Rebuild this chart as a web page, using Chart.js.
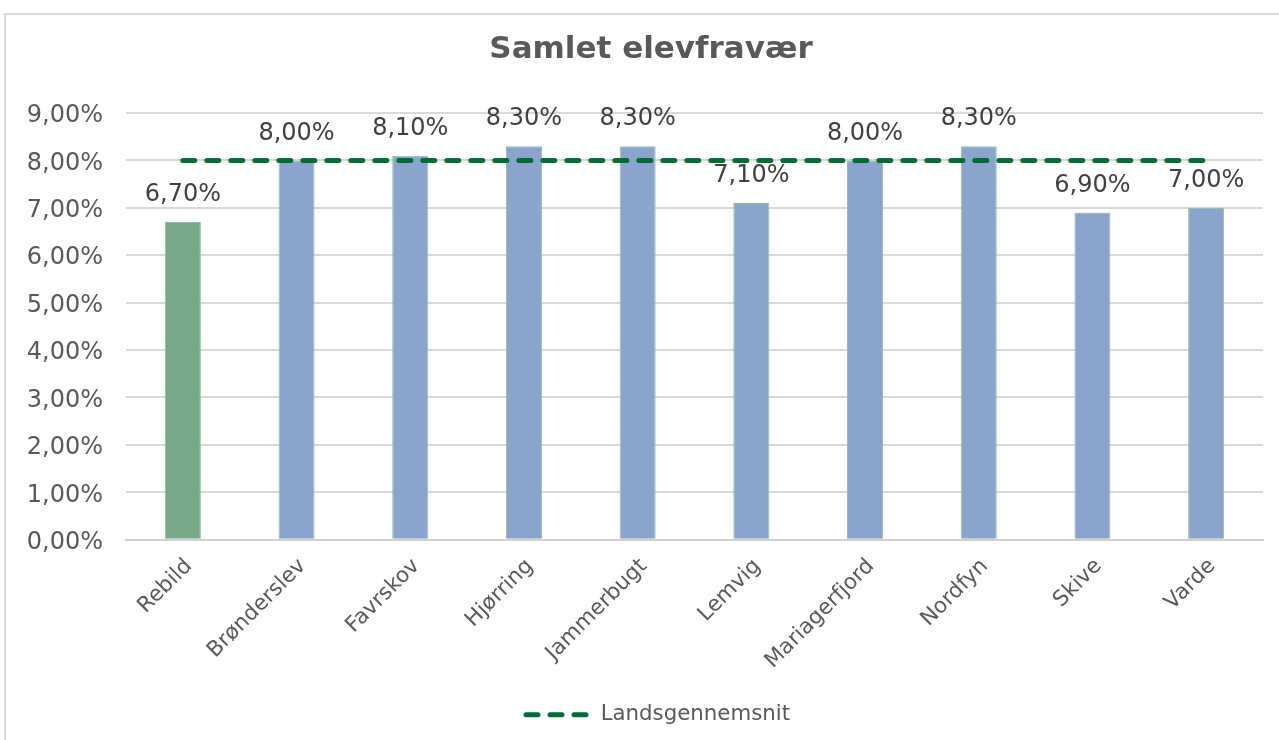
<!DOCTYPE html>
<html>
<head>
<meta charset="utf-8">
<script src="https://cdn.jsdelivr.net/npm/chart.js@4/dist/chart.umd.min.js"></script>
<style>
  html, body { margin: 0; padding: 0; background: #ffffff; overflow: hidden; }
  #frame { position: absolute; left: 4px; top: 13px; width: 1400px; height: 900px;
           border-left: 2px solid #d9d9d9; border-top: 2px solid #d9d9d9; }
  #wrap { position: absolute; left: 0; top: 0; width: 1279px; height: 740px; }
</style>
</head>
<body>
<div id="frame"></div>
<div id="wrap"><canvas id="c" width="1279" height="740"></canvas></div>
<script>
// ---- data ----
const categories = ['Rebild', 'Brønderslev', 'Favrskov', 'Hjørring', 'Jammerbugt', 'Lemvig', 'Mariagerfjord', 'Nordfyn', 'Skive', 'Varde'];
const fravaer = [6.7, 8.0, 8.1, 8.3, 8.3, 7.1, 8.0, 8.3, 6.9, 7.0];
const landsgennemsnit = [8.0, 8.0, 8.0, 8.0, 8.0, 8.0, 8.0, 8.0, 8.0, 8.0];
const highlighted = 'Rebild';
const titleText = 'Samlet elevfravær';
const lineLabel = 'Landsgennemsnit';
const yMin = 0, yMax = 9, yStep = 1;

const FONT = "'DejaVu Sans', Verdana, sans-serif";
const LINE_COLOR = '#006B35';
const LINE_DASH = [12, 12];
const fmt = v => Number(v).toFixed(2).replace('.', ',') + '%';

const dataLabels = {
  id: 'dataLabels',
  afterDatasetsDraw(chart) {
    const ctx = chart.ctx;
    chart.data.datasets.forEach((ds, i) => {
      if (ds.type !== 'bar') return;
      const meta = chart.getDatasetMeta(i);
      ctx.save();
      ctx.font = '24px ' + FONT;
      ctx.fillStyle = '#404040';
      ctx.textAlign = 'center';
      ctx.textBaseline = 'bottom';
      meta.data.forEach((el, j) => {
        ctx.fillText(fmt(ds.data[j]), el.x, el.y - 15);
      });
      ctx.restore();
    });
  }
};

const legendShift = {
  id: 'legendShift',
  afterLayout(chart) {
    if (chart.legend) { chart.legend.left += 7; chart.legend.right += 7; }
  }
};

new Chart(document.getElementById('c'), {
  data: {
    labels: categories,
    datasets: [
      {
        type: 'line',
        label: lineLabel,
        data: landsgennemsnit,
        borderColor: LINE_COLOR,
        backgroundColor: LINE_COLOR,
        borderWidth: 5,
        borderDash: LINE_DASH,
        borderCapStyle: 'round',
        pointRadius: 0,
        pointHoverRadius: 0,
        pointStyle: 'line',
        order: 0
      },
      {
        type: 'bar',
        label: titleText,
        data: fravaer,
        backgroundColor: ctx => categories[ctx.dataIndex] === highlighted ? '#77A888' : '#8AA4CC',
        borderColor: '#8CC29B',
        borderWidth: 1,
        barPercentage: 0.317,
        categoryPercentage: 1,
        order: 1
      }
    ]
  },
  options: {
    responsive: false,
    animation: false,
    layout: { padding: { left: 23, right: 0, top: 0, bottom: 4.5 } },
    plugins: {
      title: {
        display: true,
        text: titleText,
        color: '#595959',
        font: { family: FONT, size: 31, weight: 'bold', lineHeight: 1.2 },
        padding: { top: 31.4, bottom: 44.4 }
      },
      legend: {
        position: 'bottom',
        labels: {
          filter: item => item.text === lineLabel,
          generateLabels(chart) {
            const items = Chart.defaults.plugins.legend.labels.generateLabels(chart);
            items.forEach(it => {
              const ds = chart.data.datasets[it.datasetIndex];
              if (ds.type === 'line') {
                it.lineDash = ds.borderDash;
                it.lineCap = 'round';
                it.lineWidth = 5;
                it.strokeStyle = ds.borderColor;
                it.fillStyle = ds.borderColor;
              }
            });
            return items;
          },
          usePointStyle: true,
          pointStyle: 'line',
          pointStyleWidth: 64,
          color: '#595959',
          font: { family: FONT, size: 21.3 },
          padding: 10
        }
      },
      tooltip: { enabled: false }
    },
    scales: {
      x: {
        grid: { display: false, drawTicks: false },
        border: { display: true, color: '#D0D0D0', width: 2 },
        ticks: {
          autoSkip: false,
          minRotation: 45,
          maxRotation: 45,
          padding: 14,
          labelOffset: 6,
          color: '#595959',
          font: { family: FONT, size: 21.5 }
        },
        afterFit(scale) { scale.height = 154.5; }
      },
      y: {
        min: yMin,
        max: yMax,
        grid: { color: '#D9D9D9', lineWidth: 2, drawTicks: false },
        border: { display: false },
        ticks: {
          stepSize: yStep,
          padding: 23,
          labelOffset: 3,
          color: '#595959',
          font: { family: FONT, size: 24 },
          callback: v => fmt(v)
        },
        afterFit(scale) { scale.width = 103; }
      },
      yRight: {
        type: 'linear',
        position: 'right',
        display: true,
        grid: { display: false, drawTicks: false },
        border: { display: false },
        ticks: { display: false },
        afterFit(scale) { scale.width = 16; }
      }
    }
  },
  plugins: [dataLabels, legendShift]
});
</script>
</body>
</html>
